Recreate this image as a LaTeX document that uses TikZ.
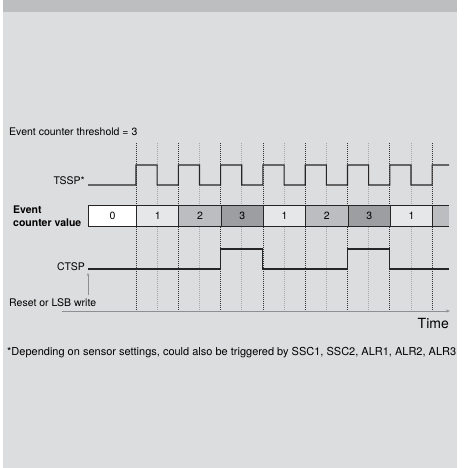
\documentclass[tikz,border=0pt]{standalone}
\usepackage{fontspec}
\setmainfont{TeX Gyre Heros}
\usetikzlibrary{arrows.meta,positioning}
\definecolor{panel}{HTML}{DCDDDF}
\definecolor{band}{HTML}{BDBEC0}
\definecolor{lowcell}{HTML}{E6E7E9}
\definecolor{midcell}{HTML}{BCBDC0}
\definecolor{highcell}{HTML}{9C9EA1}
\definecolor{axisgray}{HTML}{8E8F92}
\tikzset{
  sig/.style={line width=1.1pt,black!85},
  darkdot/.style={black!80,line width=0.8pt,dash pattern=on 1pt off 1pt},
  lightdot/.style={black!35,line width=0.8pt,dash pattern=on 1pt off 1pt},
  cell/.style={draw=black!85,line width=1.1pt,minimum height=21pt,anchor=west,inner sep=0pt},
  lbl/.style={inner sep=0pt}
}
\begin{document}
\begin{tikzpicture}[x=1pt,y=-1pt,font=\fontsize{10.5}{12}\selectfont]
\useasboundingbox (0,0) rectangle (463,468);
\fill[white] (0,0) rectangle (463,468);
\fill[panel] (3,0) rectangle (457,468);
\fill[band] (3,0) rectangle (457,12);
% dotted time marks
\foreach \i in {0,...,7}
  \draw[darkdot] (136+42.3*\i,143) -- (136+42.3*\i,311);
\foreach \i in {0,...,6}
  \draw[lightdot] (157.15+42.3*\i,143) -- (157.15+42.3*\i,311);
% counter cells
\fill[midcell] (432.1,205.5) rectangle (449,226.5);
\draw[black!85,line width=1.1pt] (432.1,205.5) -- (449,205.5) (432.1,226.5) -- (449,226.5);
\node[cell,fill=white,minimum width=48pt] (cnt0) at (88,216) {0};
\foreach \v/\c [count=\k] in {1/lowcell,2/midcell,3/highcell,1/lowcell,2/midcell,3/highcell,1/lowcell}
  \node[cell,fill=\c,minimum width=42.3pt] (cnt\k) at (136+42.3*\k-42.3,216) {\v};
% signals
\draw[sig] (88,185) -- (136,185) \foreach \i in {0,...,6} {
  -- (136+42.3*\i,165) -- (157.15+42.3*\i,165) -- (157.15+42.3*\i,185) -- (178.3+42.3*\i,185)}
  -- (432.1,165) -- (449,165);
\draw[sig] (88,269) -- (220.6,269) -- (220.6,249) -- (262.9,249) -- (262.9,269)
  -- (347.5,269) -- (347.5,249) -- (389.8,249) -- (389.8,269) -- (449,269);
% labels
\node[lbl,anchor=west] (thr) at (9,132) {Event counter threshold = 3};
\node[lbl,anchor=east] (tssp) at (85,181) {TSSP*};
\node[lbl,anchor=west,align=left,font=\fontsize{10.5}{13}\selectfont\bfseries] (evt) at (13,216.5) {Event\\counter value};
\node[lbl,anchor=east] (ctsp) at (85,267) {CTSP};
\node[lbl,anchor=west] (rst) at (9,303) {Reset or LSB write};
\node[lbl,anchor=east,font=\fontsize{14}{16}\selectfont] (time) at (449,323) {Time};
\node[lbl,anchor=west,font=\fontsize{11}{13}\selectfont] (note) at (7,353) {*Depending on sensor settings, could also be triggered by SSC1, SSC2, ALR1, ALR2, ALR3};
% axis and reset arrow
\coordinate (rstfoot) at (88,295);
\coordinate (rsttip) at (88,273);
\coordinate (axstart) at (62,311);
\coordinate (axend) at (450,311);
\draw[axisgray,line width=0.7pt,-{Stealth[length=3pt,width=2.5pt]}] (rstfoot) -- (rsttip);
\draw[axisgray,line width=0.9pt,-{Stealth[length=4pt,width=3pt]}] (axstart) -- (axend);
\end{tikzpicture}
\end{document}
